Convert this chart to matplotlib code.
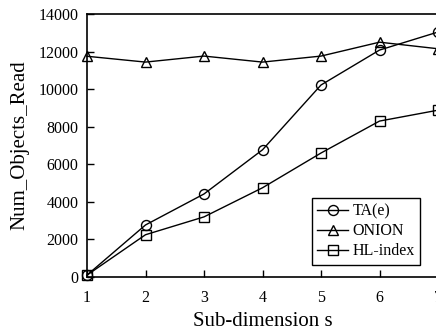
import matplotlib
matplotlib.use("Agg")
import matplotlib.pyplot as plt

x = [1, 2, 3, 4, 5, 6, 7]
ta_e = [100, 2770, 4420, 6770, 10220, 12080, 13040]
onion = [11750, 11440, 11760, 11440, 11760, 12500, 12150]
hl_index = [100, 2250, 3200, 4750, 6600, 8300, 8880]
xticks = [1, 2, 3, 4, 5, 6, 7]
yticks = [0, 2000, 4000, 6000, 8000, 10000, 12000, 14000]

plt.rcParams['font.family'] = ['Liberation Serif', 'DejaVu Serif']

fig = plt.figure(figsize=(4.36, 3.31), dpi=100)
ax = fig.add_axes([87/436, 54/331, 351/436, 263/331])

kw = dict(color='black', linewidth=1.0, markersize=7.2, fillstyle='none', markeredgewidth=1.0, clip_on=False)
ax.plot(x, ta_e, marker='o', label='TA(e)', **kw)
ax.plot(x, onion, marker='^', label='ONION', **kw)
ax.plot(x, hl_index, marker='s', label='HL-index', **kw)

ax.set_xlim(1, 7)
ax.set_ylim(0, 14000)
ax.set_xticks(xticks)
ax.set_yticks(yticks)
ax.tick_params(direction='in', length=5, width=1, labelsize=11.5)
ax.tick_params(axis='y', pad=6)
ax.tick_params(axis='x', pad=9)
for s in ax.spines.values():
    s.set_linewidth(1.2)

ax.set_xlabel('Sub-dimension s', fontsize=15, labelpad=4.5)
ax.set_ylabel('Num_Objects_Read', fontsize=15, labelpad=7)

leg = ax.legend(loc='lower right', bbox_to_anchor=(0.949, 0.046), borderaxespad=0,
                fontsize=11.5, frameon=True, fancybox=False, edgecolor='black', framealpha=1,
                handlelength=1.95, handletextpad=0.25, labelspacing=0.25, borderpad=0.35)
leg.get_frame().set_linewidth(1.0)

fig.savefig('out.png', dpi=100)
